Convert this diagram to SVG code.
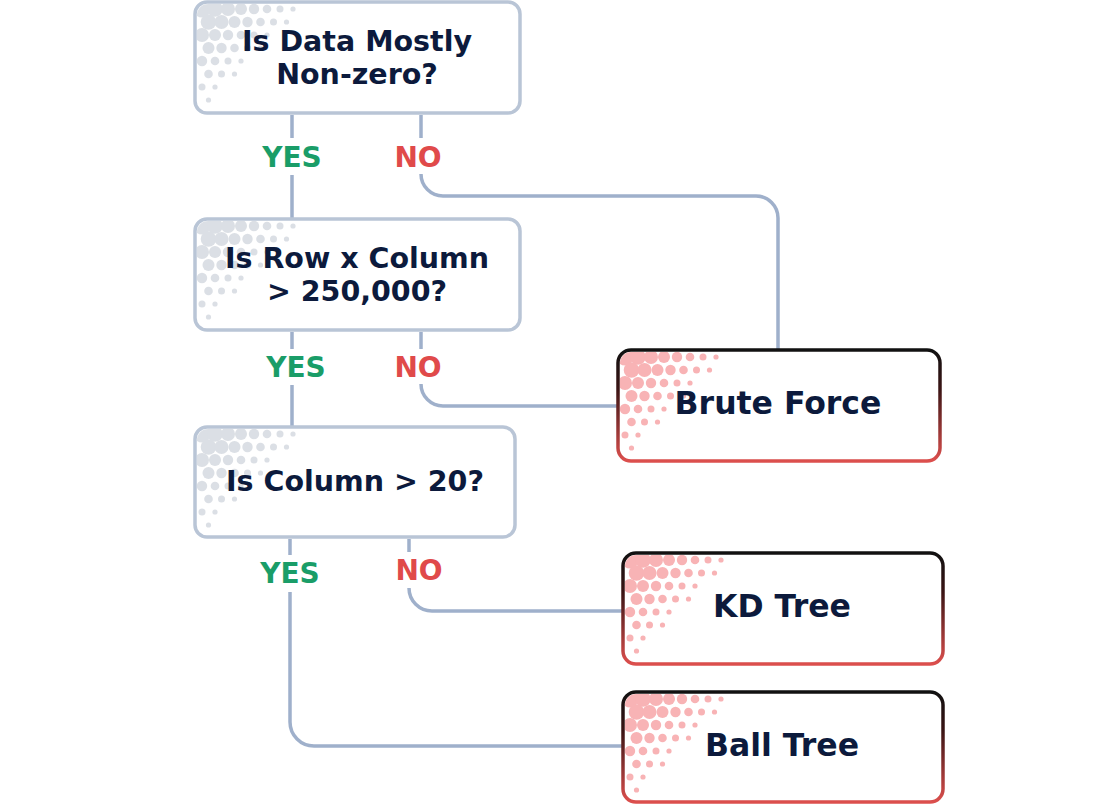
<svg xmlns="http://www.w3.org/2000/svg" xmlns:xlink="http://www.w3.org/1999/xlink" width="1100" height="806" viewBox="0 0 1100 806">
<style>
.q{fill:#ffffff;stroke:#b9c5d6;stroke-width:3.5}
.leaf{fill:#ffffff;stroke:url(#leafStroke);stroke-width:3.5}
.t{font-family:"DejaVu Sans","Liberation Sans",sans-serif;font-weight:700;fill:#0c1a3c;text-anchor:middle}
.qt{font-size:28.5px}
.lt{font-size:31.5px}
.yes{font-family:"DejaVu Sans","Liberation Sans",sans-serif;font-weight:700;font-size:28px;fill:#1a9d68;text-anchor:middle}
.no{font-family:"DejaVu Sans","Liberation Sans",sans-serif;font-weight:700;font-size:28px;fill:#e04a4a;text-anchor:middle}
.c{fill:none;stroke:#9fb0cb;stroke-width:3.5}
</style>
<defs>
<linearGradient id="leafStroke" x1="0" y1="0" x2="0" y2="1">
<stop offset="0" stop-color="#111111"/>
<stop offset="0.35" stop-color="#3a1414"/>
<stop offset="1" stop-color="#dc4f4d"/>
</linearGradient>
<clipPath id="dotclip" clipPathUnits="userSpaceOnUse">
<rect x="2" y="2" width="120" height="110" rx="11"/>
</clipPath>
<g id="dots" clip-path="url(#dotclip)">
<circle cx="7" cy="7" r="8.6"/><circle cx="20" cy="7" r="7.8"/><circle cx="33" cy="7" r="7"/><circle cx="46" cy="7" r="6"/><circle cx="59" cy="7" r="5.2"/><circle cx="72" cy="7" r="4.3"/><circle cx="85" cy="7" r="3.5"/><circle cx="98" cy="7" r="2.6"/>
<circle cx="13.5" cy="20" r="7.8"/><circle cx="26.5" cy="20" r="7"/><circle cx="39.5" cy="20" r="6"/><circle cx="52.5" cy="20" r="5.2"/><circle cx="65.5" cy="20" r="4.3"/><circle cx="78.5" cy="20" r="3.5"/><circle cx="91.5" cy="20" r="2.6"/>
<circle cx="7" cy="33" r="7"/><circle cx="20" cy="33" r="6"/><circle cx="33" cy="33" r="5.2"/><circle cx="46" cy="33" r="4.3"/><circle cx="59" cy="33" r="3.5"/><circle cx="72" cy="33" r="2.6"/>
<circle cx="13.5" cy="46" r="6"/><circle cx="26.5" cy="46" r="5.2"/><circle cx="39.5" cy="46" r="4.3"/><circle cx="52.5" cy="46" r="3.5"/><circle cx="65.5" cy="46" r="2.6"/>
<circle cx="7" cy="59" r="5.2"/><circle cx="20" cy="59" r="4.3"/><circle cx="33" cy="59" r="3.5"/><circle cx="46" cy="59" r="2.6"/>
<circle cx="13.5" cy="72" r="4.3"/><circle cx="26.5" cy="72" r="3.5"/><circle cx="39.5" cy="72" r="2.6"/>
<circle cx="7" cy="85" r="3.5"/><circle cx="20" cy="85" r="2.6"/>
<circle cx="13.5" cy="98" r="2.6"/>
</g>
</defs>
<rect width="1100" height="806" fill="#ffffff"/>

<g id="connectors">
<path class="c" d="M292 115 V138 M292 175 V219"/>
<path class="c" d="M421 115 V138 M421 174 A22 22 0 0 0 443 196 H756 A22 22 0 0 1 778 218 V350"/>
<path class="c" d="M292 332 V349 M292 385 V427"/>
<path class="c" d="M421 332 V349 M421 384 A22 22 0 0 0 443 406 H618"/>
<path class="c" d="M290 539 V555 M290 592 V722 A24 24 0 0 0 314 746 H623"/>
<path class="c" d="M409 539 V552 M409 588 A23 23 0 0 0 432 611 H623"/>
</g>

<g id="labels">
<text class="yes" x="292" y="167">YES</text>
<text class="no" x="418" y="167">NO</text>
<text class="yes" x="296" y="377">YES</text>
<text class="no" x="418" y="377">NO</text>
<text class="yes" x="290" y="583">YES</text>
<text class="no" x="419" y="580">NO</text>
</g>

<g id="q1">
<rect class="q" x="195" y="2" width="325" height="111" rx="12"/>
<use href="#dots" x="195" y="2" fill="#d3d8df" opacity="0.8"/>
<text class="t qt" x="357" y="51">Is Data Mostly</text>
<text class="t qt" x="357" y="84">Non-zero?</text>
</g>

<g id="q2">
<rect class="q" x="195" y="219" width="325" height="111" rx="12"/>
<use href="#dots" x="195" y="219" fill="#d3d8df" opacity="0.8"/>
<text class="t qt" x="357" y="268">Is Row x Column</text>
<text class="t qt" x="357" y="301">&gt; 250,000?</text>
</g>

<g id="q3">
<rect class="q" x="195" y="427" width="320" height="110" rx="12"/>
<use href="#dots" x="195" y="427" fill="#d3d8df" opacity="0.8"/>
<text class="t qt" x="355" y="491">Is Column &gt; 20?</text>
</g>

<g id="bruteforce">
<rect class="leaf" x="618" y="350" width="322" height="111" rx="13"/>
<use href="#dots" x="618" y="350" fill="#f8b3b5"/>
<text class="t lt" x="778" y="414">Brute Force</text>
</g>

<g id="kdtree">
<rect class="leaf" x="623" y="553" width="320" height="111" rx="13"/>
<use href="#dots" x="623" y="553" fill="#f8b3b5"/>
<text class="t lt" x="782" y="617">KD Tree</text>
</g>

<g id="balltree">
<rect class="leaf" x="623" y="692" width="320" height="110" rx="13"/>
<use href="#dots" x="623" y="692" fill="#f8b3b5"/>
<text class="t lt" x="782" y="756">Ball Tree</text>
</g>
</svg>
